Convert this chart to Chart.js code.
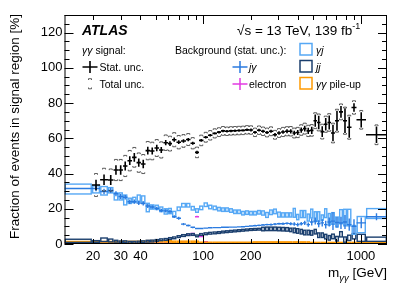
<!DOCTYPE html>
<html lang="en">
<head>
<meta charset="UTF-8" />
<title>Fraction of events in signal region</title>
<script src="https://cdn.jsdelivr.net/npm/chart.js"></script>
<style>
  html, body { margin: 0; padding: 0; background: #fff; }
</style>
</head>
<body>
<canvas id="fracChart" width="407" height="292"></canvas>
<script>
// m_yy bin edges [GeV]
const massEdges = [13.2, 19.7, 22.2, 24.9, 27.0, 29.0, 31.0, 33.1, 35.4, 37.8, 40.3, 43.1, 46.0, 49.1, 52.5,
  56.0, 59.8, 63.4, 67.7, 72.3, 77.8, 83.1, 88.7, 94.1, 100.4, 107.3, 114.5, 122.3, 129.7, 137.5, 145.7,
  154.5, 163.8, 173.7, 184.1, 195.2, 206.9, 219.4, 232.6, 246.6, 261.4, 277.1, 293.8, 311.5, 330.2, 350.1,
  368.4, 387.7, 408.0, 429.4, 451.9, 475.6, 500.5, 526.7, 554.3, 583.4, 614.0, 646.1, 685.0, 726.2, 770.0,
  816.2, 871.7, 937.8, 1077, 1464];

// yy signal fraction [%], stat. and total half-errors
const signalFrac = [null, 33.5, 36.5, 36.3, 42.0, 42.0, 44.3, 47.3, 49.2, 46.2,
  45.4, 53.0, 52.8, 54.5, 53.4, 57.5, 57.0, 59.2, 57.8, 58.5,
  59.3, 57.2, 52.0, 58.8, 60.6, 61.7, 62.8, 63.5, 64.2, 64.0,
  64.2, 64.3, 64.4, 64.5, 64.8, 64.7, 63.4, 64.6, 64.0, 63.3,
  64.0, 62.0, 63.0, 63.6, 64.0, 64.0, 63.0, 63.3, 64.7, 65.5,
  64.2, 64.5, 70.0, 69.0, 63.8, 68.0, 69.0, 63.0, 70.0, 75.0,
  70.0, 66.3, 77.5, 70.5, 62.0];
const signalStat = [0, 3.0, 3.0, 2.8, 2.7, 2.7, 2.6, 2.5, 2.5, 2.4,
  2.4, 2.2, 2.0, 1.8, 1.7, 1.5, 1.4, 1.2, 1.1, 1.0,
  0.9, 0.9, 0.9, 0.8, 0.7, 0.7, 0.7, 0.7, 0.7, 0.7,
  0.7, 0.7, 0.7, 0.7, 0.7, 0.8, 0.8, 0.8, 0.8, 0.9,
  0.9, 1.0, 1.0, 1.0, 1.1, 1.2, 1.3, 1.4, 1.5, 1.6,
  1.8, 2.0, 3.5, 3.8, 3.0, 3.5, 4.0, 4.7, 5.7, 3.3,
  7.0, 6.0, 2.4, 4.3, 4.7];
const signalTotal = [0, 6.5, 6.5, 6.3, 6.0, 6.0, 6.0, 5.8, 5.6, 5.5,
  5.4, 5.2, 5.0, 4.8, 4.6, 4.4, 4.2, 4.0, 3.8, 3.6,
  3.4, 3.2, 3.0, 3.0, 2.8, 2.7, 2.6, 2.5, 2.5, 2.4,
  2.4, 2.4, 2.4, 2.4, 2.4, 2.4, 2.4, 2.4, 2.4, 2.5,
  2.5, 2.5, 2.5, 2.6, 2.6, 2.7, 2.8, 2.9, 3.0, 3.1,
  3.2, 3.3, 4.5, 4.8, 4.2, 4.6, 5.0, 5.6, 6.5, 4.5,
  7.7, 6.8, 3.8, 5.3, 5.6];

// backgrounds [%] with stat. half-errors
const gjFrac = [31.2, 31.0, 30.2, 30.5, 27.0, 27.0, 25.0, 24.5, 25.0, 26.0,
  25.5, 20.7, 21.0, 20.8, 19.7, 18.5, 18.7, 17.0, 20.0, 22.0,
  22.0, 20.3, 19.0, 20.5, 22.3, 21.0, 20.5, 19.8, 19.5, 19.5,
  19.0, 18.3, 18.3, 17.5, 17.8, 17.5, 17.5, 18.0, 17.6, 16.5,
  18.0, 18.5, 16.7, 16.5, 16.5, 16.5, 17.7, 15.3, 17.0, 17.0,
  15.0, 17.3, 15.5, 15.5, 15.0, 17.5, 14.0, 14.5, 12.5, 15.5,
  15.0, 15.0, 8.0, 11.0, 17.3];
const gjErr = [2.8, 2.0, 2.4, 1.5, 2.0, 2.0, 2.8, 1.5, 1.5, 1.8,
  1.8, 2.4, 1.2, 1.2, 1.3, 1.5, 1.5, 1.5, 1.0, 1.0,
  1.0, 1.0, 1.0, 1.0, 1.0, 1.0, 1.0, 1.0, 1.0, 1.0,
  1.0, 1.0, 1.0, 1.0, 1.0, 1.0, 1.0, 1.0, 1.2, 1.4,
  1.3, 1.3, 1.4, 1.2, 1.2, 1.2, 2.5, 1.5, 2.0, 2.0,
  2.0, 2.5, 2.8, 2.8, 1.5, 2.5, 3.3, 3.3, 2.8, 4.0,
  4.7, 4.7, 2.5, 4.6, 2.8];

const jgFrac = [31.5, 31.5, 29.8, 30.4, 28.5, 27.0, 26.5, 24.0, 24.0, 23.3,
  23.0, 21.6, 21.0, 20.2, 19.0, 18.8, 18.4, 15.5, 14.6, 11.3,
  10.5, 9.5, 8.8, 8.8, 9.0, 9.2, 9.3, 9.3, 9.5, 9.5,
  9.6, 9.6, 9.7, 9.8, 10.0, 10.2, 10.4, 10.6, 10.8, 11.0,
  11.0, 11.3, 11.5, 11.5, 11.7, 11.5, 11.3, 11.0, 11.5, 12.0,
  11.0, 12.5, 13.0, 11.5, 12.0, 11.0, 12.5, 13.0, 12.2, 12.0,
  12.5, 11.0, 10.0, 12.0, 15.5];
const jgErr = [0.4, 1.5, 1.5, 1.5, 1.4, 1.4, 1.3, 1.3, 1.2, 1.2,
  1.2, 1.1, 1.0, 1.0, 1.0, 0.9, 0.9, 0.8, 0.8, 0.6,
  0.5, 0.5, 0.4, 0.4, 0.4, 0.4, 0.4, 0.4, 0.4, 0.4,
  0.4, 0.4, 0.4, 0.4, 0.4, 0.4, 0.5, 0.5, 0.5, 0.5,
  0.6, 0.6, 0.6, 0.7, 0.7, 0.8, 1.0, 1.0, 1.0, 1.2,
  1.2, 2.0, 2.0, 2.0, 2.0, 2.2, 2.5, 5.0, 3.0, 3.5,
  4.0, 3.5, 4.0, 3.0, 2.0];

const jjFrac = [1.8, 1.4, 2.4, 2.0, 1.6, 1.2, 1.3, 1.0, 1.0, 1.1,
  1.3, 1.6, 1.7, 2.0, 2.4, 2.6, 3.1, 3.5, 4.2, 4.8,
  5.3, 5.4, 4.6, 5.4, 5.8, 6.1, 6.3, 6.5, 6.8, 7.0,
  7.2, 7.4, 7.6, 7.8, 8.0, 8.2, 8.3, 8.4, 8.5, 8.6,
  8.6, 8.6, 8.5, 8.4, 8.3, 8.0, 7.7, 7.4, 7.0, 6.5,
  6.5, 6.3, 7.0, 5.0, 5.0, 4.2, 3.5, 4.3, 3.0, 5.5,
  2.5, 3.5, 4.4, 3.5, 2.7];
const jjErr = [0.9, 0.5, 1.0, 0.8, 0.5, 0.5, 0.5, 0.5, 0.5, 0.5,
  0.5, 0.5, 0.5, 0.5, 0.5, 0.5, 0.5, 0.5, 0.5, 0.5,
  0.5, 0.5, 0.5, 0.5, 0.5, 0.5, 0.5, 0.5, 0.5, 0.5,
  0.5, 0.5, 0.5, 0.5, 0.5, 0.5, 0.5, 0.5, 1.0, 1.0,
  1.0, 1.0, 1.0, 1.0, 1.0, 1.0, 1.3, 1.3, 1.3, 1.3,
  1.3, 1.3, 1.3, 1.3, 1.3, 1.3, 1.3, 1.3, 1.3, 1.5,
  1.5, 1.5, 1.5, 2.0, 1.2];

const elecFrac = [0.6, 0.6, 0.6, 0.6, 0.6, 0.6, 0.6, 0.6, 0.6, 0.6,
  0.6, 0.6, 0.6, 0.6, 0.6, 0.6, 0.6, 0.7, 0.8, 1.3,
  5.0, 6.0, 15.5, 4.2, 1.3, 0.6, 0.3, 0.3, 0.3, 0.3,
  0.3, 0.3, 0.3, 0.3, 0.3, 0.3, 0.3, 0.3, 0.3, 0.3,
  0.3, 0.3, 0.3, 0.3, 0.3, 0.3, 0.3, 0.3, 0.3, 0.3,
  0.3, 0.3, 0.3, 0.3, 0.3, 0.3, 0.3, 0.3, 0.3, 0.3,
  0.3, 0.3, 0.3, 0.3, 0.3];
const elecErr = [0.2, 0.2, 0.2, 0.2, 0.2, 0.2, 0.2, 0.2, 0.2, 0.2,
  0.2, 0.2, 0.2, 0.2, 0.2, 0.2, 0.2, 0.2, 0.2, 0.3,
  0.4, 0.4, 0.5, 0.4, 0.3, 0.2, 0.2, 0.2, 0.2, 0.2,
  0.2, 0.2, 0.2, 0.2, 0.2, 0.2, 0.2, 0.2, 0.2, 0.2,
  0.2, 0.2, 0.2, 0.2, 0.2, 0.2, 0.2, 0.2, 0.2, 0.2,
  0.2, 0.2, 0.2, 0.2, 0.2, 0.2, 0.2, 0.2, 0.2, 0.2,
  0.2, 0.2, 0.2, 0.2, 0.2];

const pileupFrac = [1.0, 1.0, 1.0, 1.0, 1.1, 1.1, 1.1, 1.1, 1.1, 1.1,
  1.1, 1.5, 1.5, 1.5, 1.5, 1.5, 1.5, 1.2, 1.2, 1.2,
  1.2, 1.2, 1.2, 0.6, 0.6, 0.6, 0.6, 0.6, 0.6, 0.6,
  0.6, 0.6, 0.6, 0.6, 0.6, 0.6, 0.8, 0.8, 0.8, 0.8,
  0.8, 0.8, 0.8, 0.8, 0.8, 0.8, 0.8, 0.8, 0.8, 0.8,
  0.8, 0.5, 0.5, 0.5, 0.5, 0.5, 0.5, 0.5, 0.5, 0.5,
  0.5, 0.5, 0.5, 0.5, 0.5];
const pileupErr = [0.3, 0.3, 0.3, 0.3, 0.3, 0.3, 0.3, 0.3, 0.3, 0.3,
  0.3, 0.3, 0.3, 0.3, 0.3, 0.3, 0.3, 0.3, 0.3, 0.3,
  0.3, 0.3, 0.3, 0.3, 0.3, 0.3, 0.3, 0.3, 0.3, 0.3,
  0.3, 0.3, 0.3, 0.3, 0.3, 0.3, 0.3, 0.3, 0.3, 0.3,
  0.3, 0.3, 0.3, 0.3, 0.3, 0.3, 0.3, 0.3, 0.3, 0.3,
  0.3, 0.3, 0.3, 0.3, 0.3, 0.3, 0.3, 0.3, 0.3, 0.3,
  0.3, 0.3, 0.3, 0.3, 0.3];

const xTickVals = [20, 30, 40, 100, 200, 1000];
const yTickVals = [0, 20, 40, 60, 80, 100, 120];

const FONT = '"Liberation Sans", Arial, Helvetica, sans-serif';
const C_GJ = '#56a8f5', C_JG = '#2b7be0', C_JJ = '#1b3f6e', C_EL = '#e23be2', C_PU = '#ff9a00';

// one point per bin, centred (log) in the bin
function toBins(vals, errs, tots) {
  return vals.map((v, i) => ({
    x: Math.sqrt(massEdges[i] * massEdges[i + 1]), y: v,
    lo: massEdges[i], hi: massEdges[i + 1], err: errs[i], tot: tots ? tots[i] : 0
  }));
}

function drawText(ctx, parts, x, y) {
  // parts: [text, font, dy]
  parts.forEach(([t, f, dy]) => {
    ctx.font = f;
    ctx.fillText(t, x, y + (dy || 0));
    x += ctx.measureText(t).width;
  });
  return x;
}

const atlasPlugin = {
  id: 'atlasDraw',
  afterDatasetsDraw(chart) {
    const ctx = chart.ctx, xs = chart.scales.x, ys = chart.scales.y, a = chart.chartArea;
    ctx.save();
    ctx.beginPath();
    ctx.rect(a.left, a.top, a.right - a.left, a.bottom - a.top);
    ctx.clip();
    chart.data.datasets.forEach(ds => {
      ctx.strokeStyle = ds.borderColor;
      ds.data.forEach(p => {
        if (p.y == null) return;
        const x0 = xs.getPixelForValue(p.lo), x1 = xs.getPixelForValue(p.hi);
        const xc = xs.getPixelForValue(p.x), yc = ys.getPixelForValue(p.y);
        const yh = ys.getPixelForValue(p.y + p.err), yl = ys.getPixelForValue(p.y - p.err);
        if (ds.kind === 'box') {
          ctx.lineWidth = 1.4;
          const h = Math.max(yl - yh, 1.5);
          ctx.strokeRect(x0 + 0.7, yc - h / 2, x1 - x0 - 1.4, h);
        } else {
          ctx.lineWidth = ds.kind === 'signal' ? 1.6 : 1.4;
          ctx.beginPath();
          ctx.moveTo(x0, yc); ctx.lineTo(x1, yc);
          ctx.moveTo(xc, yh); ctx.lineTo(xc, yl);
          ctx.stroke();
          if (ds.kind === 'signal') {
            const tT = ys.getPixelForValue(p.y + p.tot), tB = ys.getPixelForValue(p.y - p.tot);
            ctx.lineWidth = 0.8;
            ctx.strokeStyle = '#333';
            ctx.beginPath();
            ctx.moveTo(xc - 1.5, tT + 1.2); ctx.lineTo(xc - 1.5, tT); ctx.lineTo(xc + 1.5, tT); ctx.lineTo(xc + 1.5, tT + 1.2);
            ctx.moveTo(xc - 1.5, tB - 1.2); ctx.lineTo(xc - 1.5, tB); ctx.lineTo(xc + 1.5, tB); ctx.lineTo(xc + 1.5, tB - 1.2);
            ctx.stroke();
            ctx.strokeStyle = ds.borderColor;
          }
        }
      });
    });
    ctx.restore();
  },
  afterDraw(chart) {
    const ctx = chart.ctx, xs = chart.scales.x, ys = chart.scales.y, a = chart.chartArea;
    ctx.save();
    // frame and inward ticks
    ctx.strokeStyle = '#000';
    ctx.lineWidth = 1;
    ctx.strokeRect(a.left + 0.5, a.top + 0.5, a.right - a.left - 1, a.bottom - a.top - 1);
    ctx.beginPath();
    for (let v = 0; v <= 130; v += 5) {
      const py = Math.round(ys.getPixelForValue(v)) + 0.5;
      const len = v % 20 === 0 ? 9 : 5;
      ctx.moveTo(a.left, py); ctx.lineTo(a.left + len, py);
      ctx.moveTo(a.right, py); ctx.lineTo(a.right - len, py);
    }
    [10, 100, 1000].forEach(dec => {
      for (let k = 1; k < 10; k++) {
        const v = k * dec;
        if (v < xs.min || v > xs.max) continue;
        const px = Math.round(xs.getPixelForValue(v)) + 0.5;
        const len = k === 1 ? 9 : 5;
        ctx.moveTo(px, a.bottom); ctx.lineTo(px, a.bottom - len);
        ctx.moveTo(px, a.top); ctx.lineTo(px, a.top + len);
      }
    });
    ctx.stroke();

    ctx.fillStyle = '#000';
    ctx.textBaseline = 'alphabetic';
    ctx.textAlign = 'left';
    // axis titles
    ctx.font = '13.5px ' + FONT;
    const wM = ctx.measureText('m').width, wG = ctx.measureText(' [GeV]').width;
    ctx.font = 'italic 9.5px ' + FONT;
    const wS = ctx.measureText('γγ').width;
    drawText(ctx, [['m', '13.5px ' + FONT], ['γγ', 'italic 9.5px ' + FONT, 4], [' [GeV]', '13.5px ' + FONT]],
      a.right - wM - wS - wG, 277);
    ctx.save();
    ctx.translate(19, a.top - 1);
    ctx.rotate(-Math.PI / 2);
    ctx.textAlign = 'right';
    ctx.font = '13.5px ' + FONT;
    ctx.fillText('Fraction of events in signal region [%]', 0, 0);
    ctx.restore();

    // labels and legend
    ctx.font = 'bold italic 14px ' + FONT;
    ctx.fillText('ATLAS', 82, 35);
    let ex = drawText(ctx, [['√s = 13 TeV, 139 fb', '13.5px ' + FONT]], 237, 35);
    drawText(ctx, [['-1', '9px ' + FONT, -6]], ex, 35);

    const f = '10.5px ' + FONT, fi = 'italic 10.5px ' + FONT;
    const r1 = 54, r2 = 71, r3 = 88;
    drawText(ctx, [['γγ', fi], [' signal:', f]], 82, r1);
    drawText(ctx, [['Background (stat. unc.):', f]], 175, r1);
    drawText(ctx, [['Stat. unc.', f]], 99.5, r2);
    drawText(ctx, [['Total unc.', f]], 99.5, r3);
    drawText(ctx, [['jγ', fi]], 249, r2);
    drawText(ctx, [['electron', f]], 249, r3);
    drawText(ctx, [['γj', fi]], 316, r1);
    drawText(ctx, [['jj', fi]], 316, r2);
    drawText(ctx, [['γγ', fi], [' pile-up', f]], 316, r3);

    const cross = (cx, cy, col, w) => {
      ctx.strokeStyle = col; ctx.lineWidth = w;
      ctx.beginPath();
      ctx.moveTo(cx - 7.5, cy); ctx.lineTo(cx + 7.5, cy);
      ctx.moveTo(cx, cy - 6); ctx.lineTo(cx, cy + 6);
      ctx.stroke();
    };
    cross(90, r2 - 4, '#000', 1.6);
    cross(240, r2 - 4, C_JG, 1.5);
    cross(240, r3 - 4, C_EL, 1.5);
    ctx.lineWidth = 0.8; ctx.strokeStyle = '#333';
    ctx.beginPath();
    ctx.moveTo(88.5, r3 - 8); ctx.lineTo(88.5, r3 - 9.3); ctx.lineTo(91.5, r3 - 9.3); ctx.lineTo(91.5, r3 - 8);
    ctx.moveTo(88.5, r3 - 0.5); ctx.lineTo(88.5, r3 + 0.8); ctx.lineTo(91.5, r3 + 0.8); ctx.lineTo(91.5, r3 - 0.5);
    ctx.stroke();
    ctx.lineWidth = 1.5;
    [[r1, C_GJ], [r2, C_JJ], [r3, C_PU]].forEach(([r, col]) => {
      ctx.strokeStyle = col;
      ctx.strokeRect(300, r - 10.5, 12, 11.5);
    });
    ctx.restore();
  }
};

const ctx = document.getElementById('fracChart').getContext('2d');
const fracChart = new Chart(ctx, {
  type: 'scatter',
  data: {
    datasets: [
      { label: 'electron', kind: 'cross', data: toBins(elecFrac, elecErr), borderColor: C_EL },
      { label: 'γγ pile-up', kind: 'box', data: toBins(pileupFrac, pileupErr), borderColor: C_PU },
      { label: 'jj', kind: 'box', data: toBins(jjFrac, jjErr), borderColor: C_JJ },
      { label: 'γj', kind: 'box', data: toBins(gjFrac, gjErr), borderColor: C_GJ },
      { label: 'jγ', kind: 'cross', data: toBins(jgFrac, jgErr), borderColor: C_JG },
      { label: 'γγ signal', kind: 'signal', data: toBins(signalFrac, signalStat, signalTotal), borderColor: '#000' }
    ]
  },
  options: {
    responsive: false,
    animation: false,
    devicePixelRatio: 1,
    elements: { point: { radius: 0, hoverRadius: 0 } },
    layout: { padding: { top: 15, right: 20, left: 0, bottom: 0 } },
    plugins: { legend: { display: false }, tooltip: { enabled: false } },
    scales: {
      x: {
        type: 'logarithmic',
        min: massEdges[0],
        max: massEdges[massEdges.length - 1],
        grid: { display: false, drawTicks: false },
        border: { display: false },
        afterBuildTicks: axis => { axis.ticks = xTickVals.map(v => ({ value: v })); },
        afterFit: s => { s.height = 48; },
        ticks: {
          autoSkip: false, maxRotation: 0, padding: 5, color: '#000',
          font: { family: FONT, size: 13 },
          callback: v => String(v)
        }
      },
      y: {
        min: 0,
        max: 130,
        grid: { display: false, drawTicks: false },
        border: { display: false },
        afterBuildTicks: axis => { axis.ticks = yTickVals.map(v => ({ value: v })); },
        afterFit: s => { s.width = 64.5; },
        ticks: { padding: 2, color: '#000', font: { family: FONT, size: 13 } }
      }
    }
  },
  plugins: [atlasPlugin]
});
</script>
</body>
</html>
